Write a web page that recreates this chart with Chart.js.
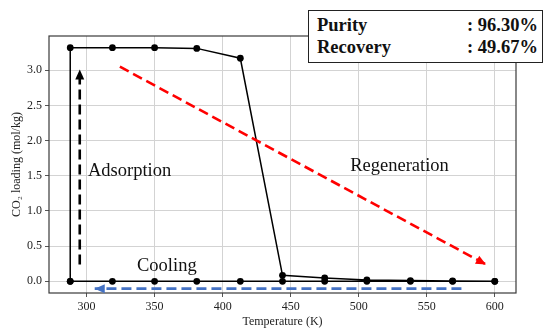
<!DOCTYPE html>
<html>
<head>
<meta charset="utf-8">
<script src="https://cdn.jsdelivr.net/npm/chart.js@4/dist/chart.umd.min.js"></script>
<style>
  html, body { margin: 0; padding: 0; background: #fff; }
  #wrap { position: relative; width: 545px; height: 329px; }
  #box {
    position: absolute; left: 308px; top: 10px; width: 233px; height: 51px;
    border: 1.5px solid #222; background: #fff;
    font-family: "Liberation Serif", "Times New Roman", serif; font-weight: bold; font-size: 18.5px;
    color: #111; box-sizing: content-box;
  }
  .row { position: absolute; left: 8px; right: 4px; display: flex; justify-content: space-between; }
</style>
</head>
<body>
<div id="wrap">
  <canvas id="c" width="545" height="329"></canvas>
  <div id="box">
    <div class="row" style="top:4px"><span>Purity</span><span>: 96.30%</span></div>
    <div class="row" style="top:26px"><span>Recovery</span><span>: 49.67%</span></div>
  </div>
</div>
<script>
// ---- data ----
const temperatures = [288, 319, 350, 381, 413, 444, 475, 506, 538, 569, 600];
const heatingLoading = [3.32, 3.32, 3.32, 3.31, 3.17, 0.085, 0.047, 0.02, 0.01, 0.005, 0.0];
const coolingLoading = [0, 0, 0, 0, 0, 0, 0, 0, 0, 0, 0];
const xTickValues = [300, 350, 400, 450, 500, 550, 600];
const yTickValues = [0.0, 0.5, 1.0, 1.5, 2.0, 2.5, 3.0];
const adsorptionArrow = [[295, 0.24], [295, 3.01]];
const regenerationArrow = [[324.5, 3.05], [593.5, 0.24]];
const coolingArrow = [[575.5, -0.104], [306, -0.104]];
const stageLabels = [
  { text: 'Adsorption', x: 301, y: 1.5, align: 'left' },
  { text: 'Regeneration', x: 530, y: 1.57, align: 'center' },
  { text: 'Cooling', x: 359, y: 0.14, align: 'center' }
];

// closed cycle: start bottom-left, up, along heating curve, back along cooling
const cycle = [{ x: temperatures[0], y: coolingLoading[0] }];
temperatures.forEach((t, i) => cycle.push({ x: t, y: heatingLoading[i] }));
for (let i = temperatures.length - 1; i >= 0; i--) cycle.push({ x: temperatures[i], y: coolingLoading[i] });

const toPts = a => a.map(p => ({ x: p[0], y: p[1] }));

const arrowHeads = {
  id: 'arrowHeads',
  afterDatasetsDraw(chart) {
    const ctx = chart.ctx;
    chart.data.datasets.forEach((ds, di) => {
      if (!ds.arrow) return;
      const sx = chart.scales.x, sy = chart.scales.y;
      const a = ds.data[ds.data.length - 2], b = ds.data[ds.data.length - 1];
      const x1 = sx.getPixelForValue(a.x), y1 = sy.getPixelForValue(a.y);
      const x2 = sx.getPixelForValue(b.x), y2 = sy.getPixelForValue(b.y);
      const ang = Math.atan2(y2 - y1, x2 - x1);
      const L = 10, W = 4.5;
      ctx.save();
      ctx.fillStyle = ds.borderColor;
      ctx.translate(x2, y2);
      ctx.rotate(ang);
      ctx.beginPath();
      ctx.moveTo(0, 0);
      ctx.lineTo(-L, -W);
      ctx.lineTo(-L, W);
      ctx.closePath();
      ctx.fill();
      ctx.restore();
    });
  }
};

const frame = {
  id: 'frame',
  beforeDatasetsDraw(chart) {
    const { ctx, chartArea: a } = chart;
    ctx.save();
    ctx.strokeStyle = '#3a3a3a';
    ctx.lineWidth = 1.2;
    ctx.strokeRect(a.left, a.top, a.right - a.left, a.bottom - a.top);
    ctx.restore();
  }
};

const texts = {
  id: 'texts',
  afterDatasetsDraw(chart) {
    const ctx = chart.ctx;
    ctx.save();
    ctx.fillStyle = '#111';
    ctx.font = '18.5px "Liberation Serif", serif';
    ctx.textBaseline = 'alphabetic';
    stageLabels.forEach(l => {
      ctx.textAlign = l.align;
      ctx.fillText(l.text, chart.scales.x.getPixelForValue(l.x), chart.scales.y.getPixelForValue(l.y));
    });
    ctx.restore();
  }
};

const serif = '"Liberation Serif", "Times New Roman", serif';

new Chart(document.getElementById('c'), {
  type: 'scatter',
  data: {
    datasets: [
      {
        data: toPts(regenerationArrow), showLine: true, arrow: true,
        borderColor: '#ff0000', borderWidth: 2.6, borderDash: [10, 5], pointRadius: 0
      },
      {
        data: toPts(adsorptionArrow), showLine: true, arrow: true,
        borderColor: '#000000', borderWidth: 2.6, borderDash: [10, 5], pointRadius: 0
      },
      {
        data: toPts(coolingArrow), showLine: true, arrow: true,
        borderColor: '#4472c4', borderWidth: 2.6, borderDash: [10, 5], pointRadius: 0
      },
      {
        data: cycle, showLine: true,
        borderColor: '#000', borderWidth: 1.5,
        pointRadius: 3.4, pointBackgroundColor: '#000', pointBorderColor: '#000', pointBorderWidth: 0
      }
    ]
  },
  options: {
    responsive: false,
    animation: false,
    layout: { padding: { left: 0, right: 29, top: 36, bottom: 0 } },
    plugins: { legend: { display: false }, tooltip: { enabled: false } },
    scales: {
      x: {
        type: 'linear', min: 272.4, max: 615.6,
        afterBuildTicks: s => { s.ticks = xTickValues.map(v => ({ value: v })); },
        afterFit: s => { s.height = 36; },
        ticks: { font: { family: serif, size: 12 }, color: '#222', padding: 3, maxRotation: 0 },
        grid: { color: '#d3d3d3', lineWidth: 1, tickLength: 4, tickColor: '#555' },
        border: { display: false },
        title: { display: true, text: 'Temperature (K)', font: { family: serif, size: 12 }, color: '#222', padding: { top: 0, bottom: 0 } }
      },
      y: {
        type: 'linear', min: -0.166, max: 3.486,
        afterBuildTicks: s => { s.ticks = yTickValues.map(v => ({ value: v })); },
        afterFit: s => { s.width = 49; },
        ticks: { font: { family: serif, size: 12 }, color: '#222', padding: 3, callback: v => v.toFixed(1) },
        grid: { color: '#d3d3d3', lineWidth: 1, tickLength: 4, tickColor: '#555' },
        border: { display: false },
        title: { display: true, text: 'CO\u2082 loading (mol/kg)', font: { family: serif, size: 12 }, color: '#222', padding: { top: 10, bottom: 0 } }
      }
    }
  },
  plugins: [frame, arrowHeads, texts]
});
</script>
</body>
</html>
